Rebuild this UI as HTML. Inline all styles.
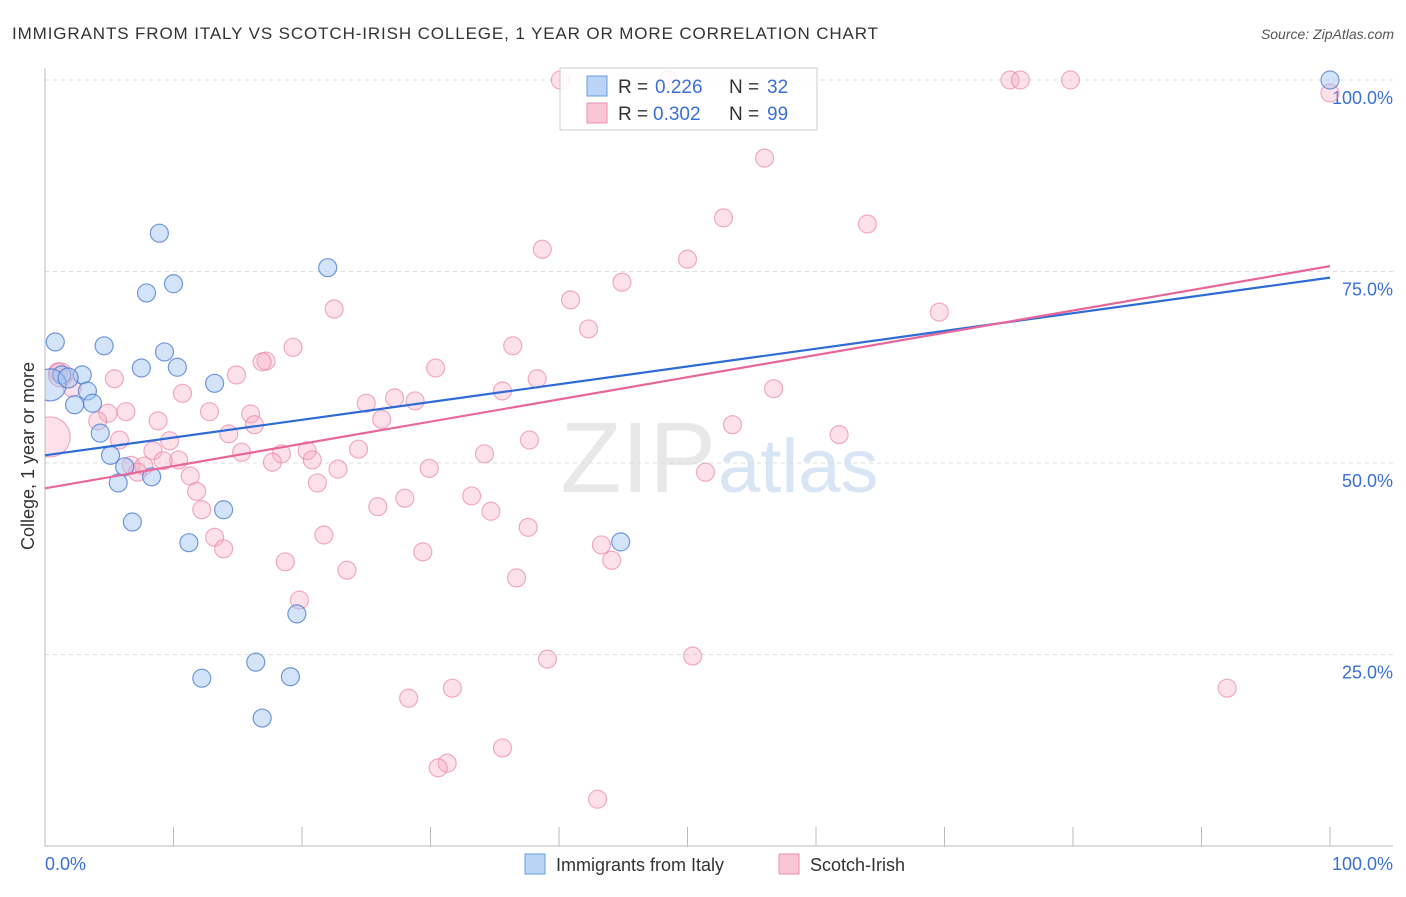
<!DOCTYPE html>
<html><head><meta charset="utf-8"><style>
body{margin:0;background:#fff;font-family:"Liberation Sans",sans-serif;}
svg text{font-family:"Liberation Sans",sans-serif;}
</style></head><body>
<svg id="chart" width="1406" height="892">
<defs><clipPath id="plotclip"><rect x="45" y="60" width="1360" height="786"/></clipPath></defs>
<text x="12" y="39" font-size="17" fill="#333" textLength="866">IMMIGRANTS FROM ITALY VS SCOTCH-IRISH COLLEGE, 1 YEAR OR MORE CORRELATION CHART</text>
<text x="1394" y="39" font-size="14" fill="#555" font-style="italic" text-anchor="end">Source: ZipAtlas.com</text>
<text x="716" y="492" font-size="100" fill="#e8e8e8" font-family="Liberation Serif" text-anchor="end">ZIP</text>
<text x="718" y="492" font-size="76" fill="#d8e5f4">atlas</text>
<g id="grid"></g><g id="axes"></g><g id="pts" clip-path="url(#plotclip)"></g><g id="lines"></g>
<text transform="translate(34,456) rotate(-90)" font-size="18" fill="#333" text-anchor="middle">College, 1 year or more</text>
<text x="45" y="870" font-size="18" fill="#3a6fd8">0.0%</text>
<text x="1393" y="870" font-size="18" fill="#3a6fd8" text-anchor="end">100.0%</text>
<g>
<rect x="560" y="68" width="257" height="62" fill="#fff" fill-opacity="0.85" stroke="#ccc"/>
<rect x="587" y="76" width="20" height="20" fill="#b9d4f5" stroke="#6b9be0"/>
<rect x="587" y="103" width="20" height="20" fill="#f9c6d6" stroke="#ea90ad"/>
<text x="618" y="93" font-size="19" fill="#333">R =</text><text x="655" y="93" font-size="19" fill="#3a6fd8">0.226</text>
<text x="729" y="93" font-size="19" fill="#333">N =</text><text x="767" y="93" font-size="19" fill="#3a6fd8">32</text>
<text x="618" y="120" font-size="19" fill="#333">R =</text><text x="653" y="120" font-size="19" fill="#3a6fd8">0.302</text>
<text x="729" y="120" font-size="19" fill="#333">N =</text><text x="767" y="120" font-size="19" fill="#3a6fd8">99</text>
</g>
<g>
<rect x="525" y="854" width="20" height="20" fill="#b9d4f5" stroke="#6b9be0"/>
<text x="556" y="871" font-size="18" fill="#333">Immigrants from Italy</text>
<rect x="779" y="854" width="20" height="20" fill="#f9c6d6" stroke="#ea90ad"/>
<text x="810" y="871" font-size="18" fill="#333">Scotch-Irish</text>
</g>
</svg>
<script>
const yTicks=[25,50,75,100];
const yTickLabels=["25.0%","50.0%","75.0%","100.0%"];
const xTicks=[10,20,30,40,50,60,70,80,90,100];
const blueX=[0.8,4.6,9.3,7.5,10.3,2.9,1.3,3.3,3.7,2.3,13.2,4.3,5.1,6.2,5.7,8.3,8.9,7.9,10.0,22.0,6.8,11.2,13.9,19.6,16.4,12.2,19.1,16.9,44.8,100,0.4,1.8];
const blueY=[65.8,65.3,64.5,62.4,62.5,61.5,61.5,59.4,57.8,57.6,60.4,53.9,51.0,49.5,47.4,48.2,80.0,72.2,73.4,75.5,42.3,39.6,43.9,30.3,24.0,21.9,22.1,16.7,39.7,100,60.2,61.1];
const blueR=[9,9,9,9,9,9,9,9,9,9,9,9,9,9,9,9,9,9,9,9,9,9,9,9,9,9,9,9,9,9,16,10];
const pinkX=[40.1,48.5,75.1,75.9,79.8,100,56.0,52.8,64.0,38.7,50.0,44.9,40.9,22.5,42.3,69.6,19.3,36.4,17.2,16.9,30.4,14.9,5.4,38.3,56.7,10.7,35.6,2.1,1.0,27.2,25.0,28.8,6.3,4.9,16.0,12.8,8.8,4.1,26.2,16.3,14.3,5.8,37.7,61.8,53.5,9.7,8.4,15.3,18.4,24.4,20.4,34.2,10.4,9.2,6.7,7.7,17.7,20.8,22.8,29.9,51.4,7.2,11.3,21.2,11.8,33.2,28.0,25.9,12.2,34.7,37.6,13.2,21.7,13.9,29.4,43.3,44.1,18.7,23.5,36.7,19.8,39.1,50.4,31.7,28.3,92.0,35.6,31.3,30.6,43.0,0.4,1.2];
const pinkY=[100,100,100,100,100,98.3,89.8,82.0,81.2,77.9,76.6,73.6,71.3,70.1,67.5,69.7,65.1,65.3,63.3,63.2,62.4,61.5,61.0,61.0,59.7,59.1,59.4,59.8,61.9,58.5,57.8,58.1,56.7,56.5,56.4,56.7,55.5,55.5,55.7,55.0,53.8,53.0,53.0,53.7,55.0,52.9,51.6,51.4,51.2,51.8,51.6,51.2,50.4,50.3,49.7,49.6,50.1,50.4,49.2,49.3,48.8,48.8,48.3,47.4,46.3,45.7,45.4,44.3,43.9,43.7,41.6,40.3,40.6,38.8,38.4,39.3,37.3,37.1,36.0,35.0,32.1,24.4,24.8,20.6,19.3,20.6,12.8,10.8,10.2,6.1,53.4,61.5];
const blueLine=[51.0,74.2];
const pinkLine=[46.7,75.7];
const NS="http://www.w3.org/2000/svg";
const X0=45,X1=1330,Y0=846,Y100=80;
function sx(v){return X0+(X1-X0)*v/100;}
function sy(v){return Y0-(Y0-Y100)*v/100;}
function mk(t,a,p){const e=document.createElementNS(NS,t);for(const k in a)e.setAttribute(k,a[k]);p.appendChild(e);return e;}
const grid=document.getElementById('grid'),axes=document.getElementById('axes'),pts=document.getElementById('pts'),lines=document.getElementById('lines');
yTicks.forEach((t,i)=>{
 const l=mk('line',{x1:X0,x2:1393,y1:sy(t),y2:sy(t),stroke:'#ddd','stroke-dasharray':'4,4'},grid);
 
 
 const tx=mk('text',{x:1393,y:sy(t)+24,'font-size':18,fill:'#3a6fd8','text-anchor':'end'},grid);
 tx.textContent=yTickLabels[i];
 
 
});
const ya=mk('line',{x1:X0,x2:X0,y1:68,y2:846,stroke:'#bbb'},axes);


const xa=mk('line',{x1:X0,x2:1393,y1:846,y2:846,stroke:'#bbb'},axes);


xTicks.forEach(t=>{
 const l=mk('line',{x1:sx(t),x2:sx(t),y1:827,y2:846,stroke:'#bbb'},axes);
 
 
});
pinkX.forEach((x,i)=>{
 const r=i>=pinkX.length-2?(i==pinkX.length-2?20:12):9;
 const c=mk('circle',{cx:sx(x),cy:sy(pinkY[i]),r:r,fill:'rgba(246,170,196,0.35)',stroke:'rgba(232,130,165,0.65)','stroke-width':1.2},pts);
 
 
});
blueX.forEach((x,i)=>{
 const c=mk('circle',{cx:sx(x),cy:sy(blueY[i]),r:blueR[i],fill:'rgba(160,196,240,0.45)',stroke:'rgba(70,120,210,0.75)','stroke-width':1.2},pts);
 
 
});
const bl=mk('line',{x1:sx(0),y1:sy(blueLine[0]),x2:sx(100),y2:sy(blueLine[1]),stroke:'#2f6bd6','stroke-width':2.2},lines);


const pl=mk('line',{x1:sx(0),y1:sy(pinkLine[0]),x2:sx(100),y2:sy(pinkLine[1]),stroke:'#e8679a','stroke-width':2.2},lines);


</script>
</body></html>
